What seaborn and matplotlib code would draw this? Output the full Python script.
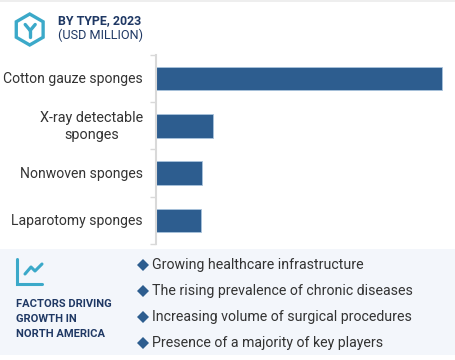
import matplotlib
matplotlib.use("Agg")
import matplotlib.pyplot as plt
import numpy as np
import pandas as pd
import seaborn as sns
from matplotlib.patches import Rectangle, RegularPolygon

categories = ["Cotton gauze sponges", "X-ray detectable\nsponges", "Nonwoven sponges", "Laparotomy sponges"]
values = [100.0, 19.8, 16.2, 15.9]
factors = ["Growing healthcare infrastructure",
           "The rising prevalence of chronic diseases",
           "Increasing volume of surgical procedures",
           "Presence of a majority of key players"]
title_bold = "BY TYPE, 2023"
title_unit = "(USD MILLION)"
panel_title = ["FACTORS DRIVING", "GROWTH IN", "NORTH AMERICA"]

W, H = 456, 360
navy = "#1f3864"
blue = "#2d5d8f"
teal = "#3ba9c9"
text_c = "#333333"

sns.set_theme(style="white")
plt.rcParams["font.family"] = ["Roboto", "DejaVu Sans"]

fig = plt.figure(figsize=(W / 100, H / 100), dpi=100, facecolor="white")

# overlay in pixel coords for panel, icons, texts
bg = fig.add_axes([0, 0, 1, 1])
bg.set_xlim(0, W)
bg.set_ylim(H, 0)
bg.axis("off")
bg.add_patch(Rectangle((0, 0), W, 1.5, color="#eeeeee", lw=0))
bg.add_patch(Rectangle((0, 249), W, 106, color="#f3f6fb", lw=0))

# bars
ax = fig.add_axes([156 / W, (H - 244) / H, 300 / W, 189 / H])
ax.patch.set_alpha(0)
df = pd.DataFrame({"type": categories, "value": values})
sns.barplot(data=df, y="type", x="value", color=blue, saturation=1, width=0.5, ax=ax,
            edgecolor="#a9c3dc", linewidth=0.6)
ax.set_xlim(0, 100 * 300 / 286)
ax.set_xlabel("")
ax.set_ylabel("")
ax.set_xticks([])
ax.set_yticks(np.arange(-0.5, 4, 1), minor=False)
ax.set_yticklabels([])
ax.tick_params(axis="y", length=4, width=1, color="#d9d9d9", left=True)
for i, c in enumerate(categories):
    ax.annotate(c, (0, i), xycoords=ax.get_yaxis_transform(), xytext=(-13, -0.7),
                textcoords="offset pixels", ha="right", va="center", multialignment="center",
                fontsize=10.35 if "\n" in c else 10.05, color=text_c, linespacing=1.25)
for s in ["top", "right", "bottom"]:
    ax.spines[s].set_visible(False)
ax.spines["left"].set_color("#d9d9d9")
ax.spines["left"].set_linewidth(1.5)

# hexagon icon
hex_x, hex_y = 29.7, 29.5
bg.add_patch(RegularPolygon((hex_x, hex_y), 6, radius=15.5, fill=False, ec=teal, lw=2.4))
for dx, dy in [(-5, -5), (5, -5), (0, 7)]:
    bg.plot([hex_x + 0.5, hex_x + 0.5 + dx], [hex_y + 1, hex_y + dy], color=teal, lw=2.4, solid_capstyle="round")

bg.text(58, 21, title_bold, fontsize=8.9, fontweight="bold", color=navy, va="center")
bg.text(58, 35.5, title_unit, fontsize=9.1, color=navy, va="center")

# line chart icon
bg.plot([17, 17, 42], [259, 284, 284], color=teal, lw=2.2, solid_capstyle="round", solid_joinstyle="miter")
bg.plot([25, 31, 35, 42], [274, 267, 271, 264], color=teal, lw=2.2)

for i, t in enumerate(panel_title):
    bg.text(16, 304 + i * 15.2, t, fontsize=8.05, fontweight="bold", color=navy, va="center")

for i, f in enumerate(factors):
    y = 265 + i * 26
    bg.plot(143, y, marker="D", ms=6.5, color=blue, mew=0)
    bg.text(152, y, f, fontsize=10.15, color=text_c, va="center")

fig.savefig("out.png", dpi=100)
